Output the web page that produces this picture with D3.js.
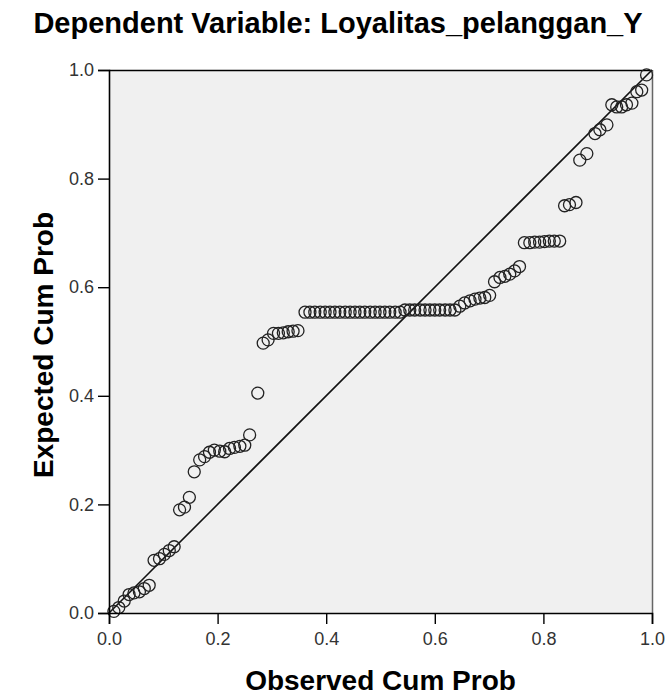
<!DOCTYPE html>
<html><head><meta charset="utf-8">
<script src="https://cdn.jsdelivr.net/npm/d3@7"></script>
<style>body{margin:0;background:#fff}svg{display:block}</style>
</head><body>
<script>
const title = "Dependent Variable: Loyalitas_pelanggan_Y";
const xLabel = "Observed Cum Prob";
const yLabel = "Expected Cum Prob";
const tickValues = [0, 0.2, 0.4, 0.6, 0.8, 1.0];

const observed = [
  0.009,0.018,0.028,0.037,0.046,0.056,0.065,0.074,0.083,0.093,
  0.102,0.111,0.120,0.130,0.139,0.148,0.157,0.167,0.176,0.185,
  0.194,0.204,0.213,0.222,0.231,0.241,0.250,0.259,0.274,0.284,
  0.293,0.303,0.312,0.321,0.330,0.339,0.348,
  0.361,0.370,0.379,0.389,0.398,0.407,0.416,0.425,0.435,0.444,
  0.453,0.462,0.471,0.481,0.490,0.499,0.508,0.517,0.527,0.536,
  0.545,0.554,0.563,0.573,0.582,0.591,0.600,0.609,0.619,0.628,0.637,
  0.646,0.655,0.665,0.674,0.683,0.692,0.701,0.710,0.720,0.729,0.738,0.747,0.756,
  0.765,0.775,0.784,0.793,0.802,0.811,0.820,0.830,
  0.839,0.848,0.860,0.867,0.880,0.895,0.904,0.917,
  0.926,0.935,0.944,0.953,0.963,0.972,0.981,0.990
];
const expected = [
  0.003,0.010,0.022,0.034,0.037,0.039,0.045,0.051,0.097,0.100,
  0.108,0.115,0.122,0.190,0.195,0.213,0.260,0.282,0.288,0.296,
  0.300,0.298,0.297,0.303,0.305,0.307,0.309,0.328,0.405,0.497,
  0.503,0.515,0.515,0.516,0.518,0.519,0.520,
  0.554,0.554,0.554,0.554,0.554,0.554,0.554,0.554,0.554,0.554,
  0.554,0.554,0.554,0.554,0.554,0.554,0.554,0.554,0.554,0.554,
  0.558,0.558,0.558,0.558,0.558,0.558,0.558,0.558,0.558,0.558,0.558,
  0.565,0.571,0.575,0.578,0.580,0.581,0.585,0.610,0.618,0.620,0.624,0.630,0.638,
  0.682,0.682,0.683,0.683,0.684,0.685,0.685,0.685,
  0.750,0.752,0.756,0.834,0.846,0.883,0.890,0.899,
  0.936,0.932,0.932,0.936,0.939,0.960,0.963,0.991
];

const W = 666, H = 696;
const mLeft = 109, mRight = 652, mTop = 70, mBottom = 613;

const svg = d3.select("body").append("svg").attr("width", W).attr("height", H);
const font = "'Liberation Sans', Arial, sans-serif";

const x = d3.scaleLinear().domain([0, 1]).range([mLeft, mRight]);
const y = d3.scaleLinear().domain([0, 1]).range([mBottom, mTop]);

svg.append("rect").attr("x", mLeft).attr("y", mTop)
  .attr("width", mRight - mLeft).attr("height", mBottom - mTop).attr("fill", "#f0f0f0");

svg.append("line").attr("x1", mLeft).attr("x2", mRight).attr("y1", mTop + 0.5).attr("y2", mTop + 0.5)
  .attr("stroke", "#000").attr("stroke-width", 1.5);
svg.append("line").attr("x1", mRight + 0.5).attr("x2", mRight + 0.5).attr("y1", mTop).attr("y2", mBottom)
  .attr("stroke", "#666").attr("stroke-width", 1.5);

svg.append("line").attr("x1", x(0)).attr("y1", y(0)).attr("x2", x(1)).attr("y2", y(1))
  .attr("stroke", "#111").attr("stroke-width", 1.6);

const pts = observed.map((v, i) => [v, expected[i]]);
svg.append("g").selectAll("circle").data(pts).join("circle")
  .attr("cx", d => x(d[0])).attr("cy", d => y(d[1])).attr("r", 6)
  .attr("fill", "none").attr("stroke", "#222").attr("stroke-width", 1.3);

const fmt = d3.format(".1f");
const xAxis = svg.append("g").attr("transform", `translate(0,${mBottom})`)
  .call(d3.axisBottom(x).tickValues(tickValues).tickFormat(fmt).tickSizeOuter(0).tickSize(11).tickPadding(8));
const yAxis = svg.append("g").attr("transform", `translate(${mLeft},0)`)
  .call(d3.axisLeft(y).tickValues(tickValues).tickFormat(fmt).tickSizeOuter(0).tickSize(11).tickPadding(4));
[xAxis, yAxis].forEach(a => {
  a.select(".domain").attr("stroke", "#000").attr("stroke-width", 1.6);
  a.selectAll(".tick line").attr("stroke", "#000").attr("stroke-width", 1.4);
  a.selectAll(".tick text").attr("font-family", font).attr("font-size", 18).attr("fill", "#333");
});

svg.append("text").attr("x", 338).attr("y", 33).attr("text-anchor", "middle")
  .attr("font-family", font).attr("font-weight", "bold").attr("font-size", 29)
  .attr("fill", "#000").text(title);

svg.append("text").attr("x", (mLeft + mRight) / 2).attr("y", 690).attr("text-anchor", "middle")
  .attr("font-family", font).attr("font-weight", "bold").attr("font-size", 28)
  .attr("fill", "#000").text(xLabel);

svg.append("text").attr("transform", `translate(53,345) rotate(-90)`).attr("text-anchor", "middle")
  .attr("font-family", font).attr("font-weight", "bold").attr("font-size", 28)
  .attr("fill", "#000").text(yLabel);
</script>
</body></html>
